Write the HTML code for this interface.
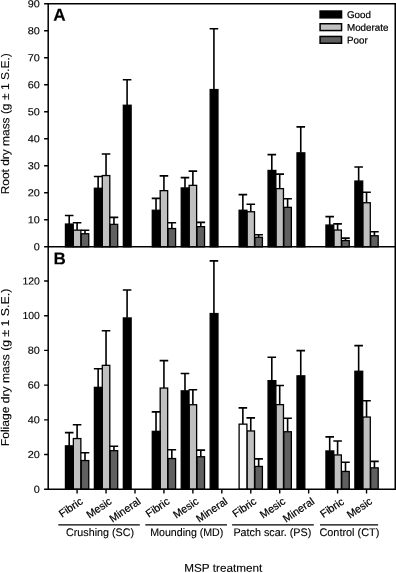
<!DOCTYPE html>
<html><head><meta charset="utf-8"><title>chart</title>
<style>text{stroke:#000}html,body{margin:0;padding:0;background:#fff}body{width:396px;height:573px;overflow:hidden}</style></head>
<body>
<svg width="396" height="573" viewBox="0 0 396 573" style="display:block;will-change:transform;font-family:'Liberation Sans',sans-serif" fill="#000">
<rect width="396" height="573" fill="#fff"/>
<path d="M77.10 230.00V222.70M72.80 222.70H81.40" stroke="#000" stroke-width="1.6" fill="none"/>
<rect x="73.35" y="230.15" width="7.50" height="16.65" fill="#c0c0c0" stroke="#000" stroke-width="1.3"/>
<path d="M69.20 223.90V215.50M64.90 215.50H73.50" stroke="#000" stroke-width="1.6" fill="none"/>
<rect x="65.45" y="224.05" width="7.80" height="22.75" fill="#000" stroke="#000" stroke-width="1.3"/>
<path d="M85.00 233.60V230.30M80.70 230.30H89.30" stroke="#000" stroke-width="1.6" fill="none"/>
<rect x="81.25" y="233.75" width="7.50" height="13.05" fill="#606060" stroke="#000" stroke-width="1.3"/>
<path d="M106.04 175.40V154.00M101.74 154.00H110.34" stroke="#000" stroke-width="1.6" fill="none"/>
<rect x="102.29" y="175.55" width="7.50" height="71.25" fill="#c0c0c0" stroke="#000" stroke-width="1.3"/>
<path d="M98.14 188.10V176.50M93.84 176.50H102.44" stroke="#000" stroke-width="1.6" fill="none"/>
<rect x="94.39" y="188.25" width="7.80" height="58.55" fill="#000" stroke="#000" stroke-width="1.3"/>
<path d="M113.94 224.20V217.40M109.64 217.40H118.24" stroke="#000" stroke-width="1.6" fill="none"/>
<rect x="110.19" y="224.35" width="7.50" height="22.45" fill="#606060" stroke="#000" stroke-width="1.3"/>
<path d="M127.09 105.10V79.70M122.79 79.70H131.39" stroke="#000" stroke-width="1.6" fill="none"/>
<rect x="123.34" y="105.25" width="7.80" height="141.55" fill="#000" stroke="#000" stroke-width="1.3"/>
<path d="M163.93 190.50V175.90M159.63 175.90H168.23" stroke="#000" stroke-width="1.6" fill="none"/>
<rect x="160.18" y="190.65" width="7.50" height="56.15" fill="#c0c0c0" stroke="#000" stroke-width="1.3"/>
<path d="M156.03 210.10V198.40M151.73 198.40H160.33" stroke="#000" stroke-width="1.6" fill="none"/>
<rect x="152.28" y="210.25" width="7.80" height="36.55" fill="#000" stroke="#000" stroke-width="1.3"/>
<path d="M171.83 228.40V222.70M167.53 222.70H176.13" stroke="#000" stroke-width="1.6" fill="none"/>
<rect x="168.08" y="228.55" width="7.50" height="18.25" fill="#606060" stroke="#000" stroke-width="1.3"/>
<path d="M192.88 185.20V171.10M188.58 171.10H197.18" stroke="#000" stroke-width="1.6" fill="none"/>
<rect x="189.13" y="185.35" width="7.50" height="61.45" fill="#c0c0c0" stroke="#000" stroke-width="1.3"/>
<path d="M184.98 187.80V177.60M180.68 177.60H189.28" stroke="#000" stroke-width="1.6" fill="none"/>
<rect x="181.23" y="187.95" width="7.80" height="58.85" fill="#000" stroke="#000" stroke-width="1.3"/>
<path d="M200.78 226.50V222.40M196.48 222.40H205.08" stroke="#000" stroke-width="1.6" fill="none"/>
<rect x="197.03" y="226.65" width="7.50" height="20.15" fill="#606060" stroke="#000" stroke-width="1.3"/>
<path d="M213.92 89.40V28.70M209.62 28.70H218.22" stroke="#000" stroke-width="1.6" fill="none"/>
<rect x="210.17" y="89.55" width="7.80" height="157.25" fill="#000" stroke="#000" stroke-width="1.3"/>
<path d="M250.76 211.60V204.20M246.46 204.20H255.06" stroke="#000" stroke-width="1.6" fill="none"/>
<rect x="247.01" y="211.75" width="7.50" height="35.05" fill="#c0c0c0" stroke="#000" stroke-width="1.3"/>
<path d="M242.86 210.10V194.60M238.56 194.60H247.16" stroke="#000" stroke-width="1.6" fill="none"/>
<rect x="239.11" y="210.25" width="7.80" height="36.55" fill="#000" stroke="#000" stroke-width="1.3"/>
<path d="M258.66 237.10V234.80M254.36 234.80H262.96" stroke="#000" stroke-width="1.6" fill="none"/>
<rect x="254.91" y="237.25" width="7.50" height="9.55" fill="#606060" stroke="#000" stroke-width="1.3"/>
<path d="M279.71 188.50V174.10M275.41 174.10H284.01" stroke="#000" stroke-width="1.6" fill="none"/>
<rect x="275.96" y="188.65" width="7.50" height="58.15" fill="#c0c0c0" stroke="#000" stroke-width="1.3"/>
<path d="M271.81 170.30V154.60M267.51 154.60H276.11" stroke="#000" stroke-width="1.6" fill="none"/>
<rect x="268.06" y="170.45" width="7.80" height="76.35" fill="#000" stroke="#000" stroke-width="1.3"/>
<path d="M287.61 207.20V198.70M283.31 198.70H291.91" stroke="#000" stroke-width="1.6" fill="none"/>
<rect x="283.86" y="207.35" width="7.50" height="39.45" fill="#606060" stroke="#000" stroke-width="1.3"/>
<path d="M300.75 152.70V126.90M296.45 126.90H305.05" stroke="#000" stroke-width="1.6" fill="none"/>
<rect x="297.00" y="152.85" width="7.80" height="93.95" fill="#000" stroke="#000" stroke-width="1.3"/>
<path d="M337.60 229.90V223.90M333.30 223.90H341.90" stroke="#000" stroke-width="1.6" fill="none"/>
<rect x="333.85" y="230.05" width="7.50" height="16.75" fill="#c0c0c0" stroke="#000" stroke-width="1.3"/>
<path d="M329.70 224.90V216.60M325.40 216.60H334.00" stroke="#000" stroke-width="1.6" fill="none"/>
<rect x="325.95" y="225.05" width="7.80" height="21.75" fill="#000" stroke="#000" stroke-width="1.3"/>
<path d="M345.50 240.40V238.10M341.20 238.10H349.80" stroke="#000" stroke-width="1.6" fill="none"/>
<rect x="341.75" y="240.55" width="7.50" height="6.25" fill="#606060" stroke="#000" stroke-width="1.3"/>
<path d="M366.54 202.60V192.30M362.24 192.30H370.84" stroke="#000" stroke-width="1.6" fill="none"/>
<rect x="362.79" y="202.75" width="7.50" height="44.05" fill="#c0c0c0" stroke="#000" stroke-width="1.3"/>
<path d="M358.64 180.90V167.00M354.34 167.00H362.94" stroke="#000" stroke-width="1.6" fill="none"/>
<rect x="354.89" y="181.05" width="7.80" height="65.75" fill="#000" stroke="#000" stroke-width="1.3"/>
<path d="M374.44 235.60V231.80M370.14 231.80H378.74" stroke="#000" stroke-width="1.6" fill="none"/>
<rect x="370.69" y="235.75" width="7.50" height="11.05" fill="#606060" stroke="#000" stroke-width="1.3"/>
<path d="M77.10 438.40V424.70M72.80 424.70H81.40" stroke="#000" stroke-width="1.6" fill="none"/>
<rect x="73.35" y="438.55" width="7.50" height="50.75" fill="#c0c0c0" stroke="#000" stroke-width="1.3"/>
<path d="M69.20 445.70V432.60M64.90 432.60H73.50" stroke="#000" stroke-width="1.6" fill="none"/>
<rect x="65.45" y="445.85" width="7.80" height="43.45" fill="#000" stroke="#000" stroke-width="1.3"/>
<path d="M85.00 460.40V452.80M80.70 452.80H89.30" stroke="#000" stroke-width="1.6" fill="none"/>
<rect x="81.25" y="460.55" width="7.50" height="28.75" fill="#606060" stroke="#000" stroke-width="1.3"/>
<path d="M106.04 365.20V330.70M101.74 330.70H110.34" stroke="#000" stroke-width="1.6" fill="none"/>
<rect x="102.29" y="365.35" width="7.50" height="123.95" fill="#c0c0c0" stroke="#000" stroke-width="1.3"/>
<path d="M98.14 387.20V368.70M93.84 368.70H102.44" stroke="#000" stroke-width="1.6" fill="none"/>
<rect x="94.39" y="387.35" width="7.80" height="101.95" fill="#000" stroke="#000" stroke-width="1.3"/>
<path d="M113.94 450.50V446.30M109.64 446.30H118.24" stroke="#000" stroke-width="1.6" fill="none"/>
<rect x="110.19" y="450.65" width="7.50" height="38.65" fill="#606060" stroke="#000" stroke-width="1.3"/>
<path d="M127.09 317.80V290.00M122.79 290.00H131.39" stroke="#000" stroke-width="1.6" fill="none"/>
<rect x="123.34" y="317.95" width="7.80" height="171.35" fill="#000" stroke="#000" stroke-width="1.3"/>
<path d="M163.93 387.90V360.60M159.63 360.60H168.23" stroke="#000" stroke-width="1.6" fill="none"/>
<rect x="160.18" y="388.05" width="7.50" height="101.25" fill="#c0c0c0" stroke="#000" stroke-width="1.3"/>
<path d="M156.03 431.20V411.90M151.73 411.90H160.33" stroke="#000" stroke-width="1.6" fill="none"/>
<rect x="152.28" y="431.35" width="7.80" height="57.95" fill="#000" stroke="#000" stroke-width="1.3"/>
<path d="M171.83 458.40V449.80M167.53 449.80H176.13" stroke="#000" stroke-width="1.6" fill="none"/>
<rect x="168.08" y="458.55" width="7.50" height="30.75" fill="#606060" stroke="#000" stroke-width="1.3"/>
<path d="M192.88 404.60V389.80M188.58 389.80H197.18" stroke="#000" stroke-width="1.6" fill="none"/>
<rect x="189.13" y="404.75" width="7.50" height="84.55" fill="#c0c0c0" stroke="#000" stroke-width="1.3"/>
<path d="M184.98 390.70V373.50M180.68 373.50H189.28" stroke="#000" stroke-width="1.6" fill="none"/>
<rect x="181.23" y="390.85" width="7.80" height="98.45" fill="#000" stroke="#000" stroke-width="1.3"/>
<path d="M200.78 456.60V450.10M196.48 450.10H205.08" stroke="#000" stroke-width="1.6" fill="none"/>
<rect x="197.03" y="456.75" width="7.50" height="32.55" fill="#606060" stroke="#000" stroke-width="1.3"/>
<path d="M213.92 313.40V260.90M209.62 260.90H218.22" stroke="#000" stroke-width="1.6" fill="none"/>
<rect x="210.17" y="313.55" width="7.80" height="175.75" fill="#000" stroke="#000" stroke-width="1.3"/>
<path d="M250.76 430.80V417.90M246.46 417.90H255.06" stroke="#000" stroke-width="1.6" fill="none"/>
<rect x="247.01" y="430.95" width="7.50" height="58.35" fill="#c0c0c0" stroke="#000" stroke-width="1.3"/>
<path d="M242.86 424.00V407.90M238.56 407.90H247.16" stroke="#000" stroke-width="1.6" fill="none"/>
<rect x="239.11" y="424.15" width="7.80" height="65.15" fill="#fff" stroke="#000" stroke-width="1.3"/>
<path d="M258.66 466.30V458.90M254.36 458.90H262.96" stroke="#000" stroke-width="1.6" fill="none"/>
<rect x="254.91" y="466.45" width="7.50" height="22.85" fill="#606060" stroke="#000" stroke-width="1.3"/>
<path d="M279.71 404.50V385.50M275.41 385.50H284.01" stroke="#000" stroke-width="1.6" fill="none"/>
<rect x="275.96" y="404.65" width="7.50" height="84.65" fill="#c0c0c0" stroke="#000" stroke-width="1.3"/>
<path d="M271.81 380.50V357.30M267.51 357.30H276.11" stroke="#000" stroke-width="1.6" fill="none"/>
<rect x="268.06" y="380.65" width="7.80" height="108.65" fill="#000" stroke="#000" stroke-width="1.3"/>
<path d="M287.61 431.60V418.20M283.31 418.20H291.91" stroke="#000" stroke-width="1.6" fill="none"/>
<rect x="283.86" y="431.75" width="7.50" height="57.55" fill="#606060" stroke="#000" stroke-width="1.3"/>
<path d="M300.75 375.70V350.60M296.45 350.60H305.05" stroke="#000" stroke-width="1.6" fill="none"/>
<rect x="297.00" y="375.85" width="7.80" height="113.45" fill="#000" stroke="#000" stroke-width="1.3"/>
<path d="M337.60 454.80V441.00M333.30 441.00H341.90" stroke="#000" stroke-width="1.6" fill="none"/>
<rect x="333.85" y="454.95" width="7.50" height="34.35" fill="#c0c0c0" stroke="#000" stroke-width="1.3"/>
<path d="M329.70 450.80V436.90M325.40 436.90H334.00" stroke="#000" stroke-width="1.6" fill="none"/>
<rect x="325.95" y="450.95" width="7.80" height="38.35" fill="#000" stroke="#000" stroke-width="1.3"/>
<path d="M345.50 471.30V462.20M341.20 462.20H349.80" stroke="#000" stroke-width="1.6" fill="none"/>
<rect x="341.75" y="471.45" width="7.50" height="17.85" fill="#606060" stroke="#000" stroke-width="1.3"/>
<path d="M366.54 416.90V400.70M362.24 400.70H370.84" stroke="#000" stroke-width="1.6" fill="none"/>
<rect x="362.79" y="417.05" width="7.50" height="72.25" fill="#c0c0c0" stroke="#000" stroke-width="1.3"/>
<path d="M358.64 371.10V345.60M354.34 345.60H362.94" stroke="#000" stroke-width="1.6" fill="none"/>
<rect x="354.89" y="371.25" width="7.80" height="118.05" fill="#000" stroke="#000" stroke-width="1.3"/>
<path d="M374.44 467.70V461.40M370.14 461.40H378.74" stroke="#000" stroke-width="1.6" fill="none"/>
<rect x="370.69" y="467.85" width="7.50" height="21.45" fill="#606060" stroke="#000" stroke-width="1.3"/>
<path d="M48.2 490.05V3.7H395.25V489.3M47.45 246.8H395.25M47.45 489.3H396.0" stroke="#000" stroke-width="1.5" fill="none" stroke-linejoin="miter"/>
<path d="M44.1 246.80H48.2M44.1 219.79H48.2M44.1 192.78H48.2M44.1 165.77H48.2M44.1 138.76H48.2M44.1 111.74H48.2M44.1 84.73H48.2M44.1 57.72H48.2M44.1 30.71H48.2M44.1 3.70H48.2M44.1 489.30H48.2M44.1 454.57H48.2M44.1 419.85H48.2M44.1 385.12H48.2M44.1 350.40H48.2M44.1 315.68H48.2M44.1 280.95H48.2M77.10 489.3V493.6M106.04 489.3V493.6M134.99 489.3V493.6M163.93 489.3V493.6M192.88 489.3V493.6M221.82 489.3V493.6M250.76 489.3V493.6M279.71 489.3V493.6M308.65 489.3V493.6M337.60 489.3V493.6M366.54 489.3V493.6" stroke="#000" stroke-width="1.4" fill="none"/>
<text transform="translate(39.90 250.25) rotate(0.04) scale(1.0700 1)" font-size="10.2" text-anchor="end" stroke-width="0.12">0</text>
<text transform="translate(39.90 223.24) rotate(0.04) scale(1.0700 1)" font-size="10.2" text-anchor="end" stroke-width="0.12">10</text>
<text transform="translate(39.90 196.23) rotate(0.04) scale(1.0700 1)" font-size="10.2" text-anchor="end" stroke-width="0.12">20</text>
<text transform="translate(39.90 169.22) rotate(0.04) scale(1.0700 1)" font-size="10.2" text-anchor="end" stroke-width="0.12">30</text>
<text transform="translate(39.90 142.21) rotate(0.04) scale(1.0700 1)" font-size="10.2" text-anchor="end" stroke-width="0.12">40</text>
<text transform="translate(39.90 115.19) rotate(0.04) scale(1.0700 1)" font-size="10.2" text-anchor="end" stroke-width="0.12">50</text>
<text transform="translate(39.90 88.18) rotate(0.04) scale(1.0700 1)" font-size="10.2" text-anchor="end" stroke-width="0.12">60</text>
<text transform="translate(39.90 61.17) rotate(0.04) scale(1.0700 1)" font-size="10.2" text-anchor="end" stroke-width="0.12">70</text>
<text transform="translate(39.90 34.16) rotate(0.04) scale(1.0700 1)" font-size="10.2" text-anchor="end" stroke-width="0.12">80</text>
<text transform="translate(39.90 7.15) rotate(0.04) scale(1.0700 1)" font-size="10.2" text-anchor="end" stroke-width="0.12">90</text>
<text transform="translate(39.90 492.75) rotate(0.04) scale(1.0700 1)" font-size="10.2" text-anchor="end" stroke-width="0.12">0</text>
<text transform="translate(39.90 458.02) rotate(0.04) scale(1.0700 1)" font-size="10.2" text-anchor="end" stroke-width="0.12">20</text>
<text transform="translate(39.90 423.30) rotate(0.04) scale(1.0700 1)" font-size="10.2" text-anchor="end" stroke-width="0.12">40</text>
<text transform="translate(39.90 388.57) rotate(0.04) scale(1.0700 1)" font-size="10.2" text-anchor="end" stroke-width="0.12">60</text>
<text transform="translate(39.90 353.85) rotate(0.04) scale(1.0700 1)" font-size="10.2" text-anchor="end" stroke-width="0.12">80</text>
<text transform="translate(39.90 319.12) rotate(0.04) scale(1.0250 1)" font-size="10.2" text-anchor="end" stroke-width="0.12">100</text>
<text transform="translate(39.90 284.40) rotate(0.04) scale(1.0250 1)" font-size="10.2" text-anchor="end" stroke-width="0.12">120</text>
<text transform="translate(53.30 20.70) rotate(0.04)" font-size="17.2" font-weight="bold" stroke-width="0.12">A</text>
<text transform="translate(53.60 264.20) rotate(0.04)" font-size="17.0" font-weight="bold" stroke-width="0.12">B</text>
<text transform="translate(9.10 194.30) rotate(-89.96) scale(1.0479 1)" font-size="11.4" stroke-width="0.12">Root dry mass (g</text>
<text transform="translate(9.10 99.90) rotate(-89.96) scale(1.0578 1)" font-size="11.4" stroke-width="0.12">± 1 S.E.)</text>
<text transform="translate(9.10 446.20) rotate(-89.96) scale(1.0614 1)" font-size="11.4" stroke-width="0.12">Foliage dry mass (g</text>
<text transform="translate(9.10 336.80) rotate(-89.96) scale(1.0894 1)" font-size="11.4" stroke-width="0.12">± 1 S.E.)</text>
<rect x="320.1" y="11.05" width="21.45" height="6.800000000000001" fill="#000" stroke="#000" stroke-width="1.5"/>
<text transform="translate(347.00 18.00) rotate(0.04)" font-size="9.8" stroke-width="0.22">Good</text>
<rect x="320.1" y="23.75" width="21.45" height="6.800000000000001" fill="#c0c0c0" stroke="#000" stroke-width="1.5"/>
<text transform="translate(347.00 30.70) rotate(0.04)" font-size="9.8" stroke-width="0.22">Moderate</text>
<rect x="320.1" y="36.45" width="21.45" height="6.800000000000001" fill="#606060" stroke="#000" stroke-width="1.5"/>
<text transform="translate(347.00 43.40) rotate(0.04)" font-size="9.8" stroke-width="0.22">Poor</text>
<text transform="translate(83.60 503.10) rotate(-33.96)" font-size="10.7" text-anchor="end" stroke-width="0.2">Fibric</text>
<text transform="translate(112.54 503.10) rotate(-33.96)" font-size="10.7" text-anchor="end" stroke-width="0.2">Mesic</text>
<text transform="translate(141.49 503.10) rotate(-33.96)" font-size="10.7" text-anchor="end" stroke-width="0.2">Mineral</text>
<text transform="translate(170.43 503.10) rotate(-33.96)" font-size="10.7" text-anchor="end" stroke-width="0.2">Fibric</text>
<text transform="translate(199.38 503.10) rotate(-33.96)" font-size="10.7" text-anchor="end" stroke-width="0.2">Mesic</text>
<text transform="translate(228.32 503.10) rotate(-33.96)" font-size="10.7" text-anchor="end" stroke-width="0.2">Mineral</text>
<text transform="translate(257.26 503.10) rotate(-33.96)" font-size="10.7" text-anchor="end" stroke-width="0.2">Fibric</text>
<text transform="translate(286.21 503.10) rotate(-33.96)" font-size="10.7" text-anchor="end" stroke-width="0.2">Mesic</text>
<text transform="translate(315.15 503.10) rotate(-33.96)" font-size="10.7" text-anchor="end" stroke-width="0.2">Mineral</text>
<text transform="translate(344.90 503.42) rotate(-33.96)" font-size="10.7" text-anchor="end" stroke-width="0.2">Fibric</text>
<text transform="translate(373.04 503.10) rotate(-33.96)" font-size="10.7" text-anchor="end" stroke-width="0.2">Mesic</text>
<path d="M58.3 524.8H139.8" stroke="#000" stroke-width="1.3"/>
<path d="M145.3 524.8H227.0" stroke="#000" stroke-width="1.3"/>
<path d="M232.1 524.8H313.8" stroke="#000" stroke-width="1.3"/>
<path d="M320.0 524.8H378.1" stroke="#000" stroke-width="1.3"/>
<text transform="translate(66.05 535.90) rotate(0.04) scale(0.9747 1)" font-size="11.0" stroke-width="0.12">Crushing (SC)</text>
<text transform="translate(150.20 535.90) rotate(0.04) scale(0.9658 1)" font-size="11.0" stroke-width="0.12">Mounding (MD)</text>
<text transform="translate(233.40 535.90) rotate(0.04) scale(0.9816 1)" font-size="11.0" stroke-width="0.12">Patch scar. (PS)</text>
<text transform="translate(319.40 535.90) rotate(0.04) scale(0.9919 1)" font-size="11.0" stroke-width="0.12">Control (CT)</text>
<text transform="translate(184.30 571.80) rotate(0.04) scale(1.0383 1)" font-size="11.3" stroke-width="0.12">MSP treatment</text>
</svg>
</body></html>
